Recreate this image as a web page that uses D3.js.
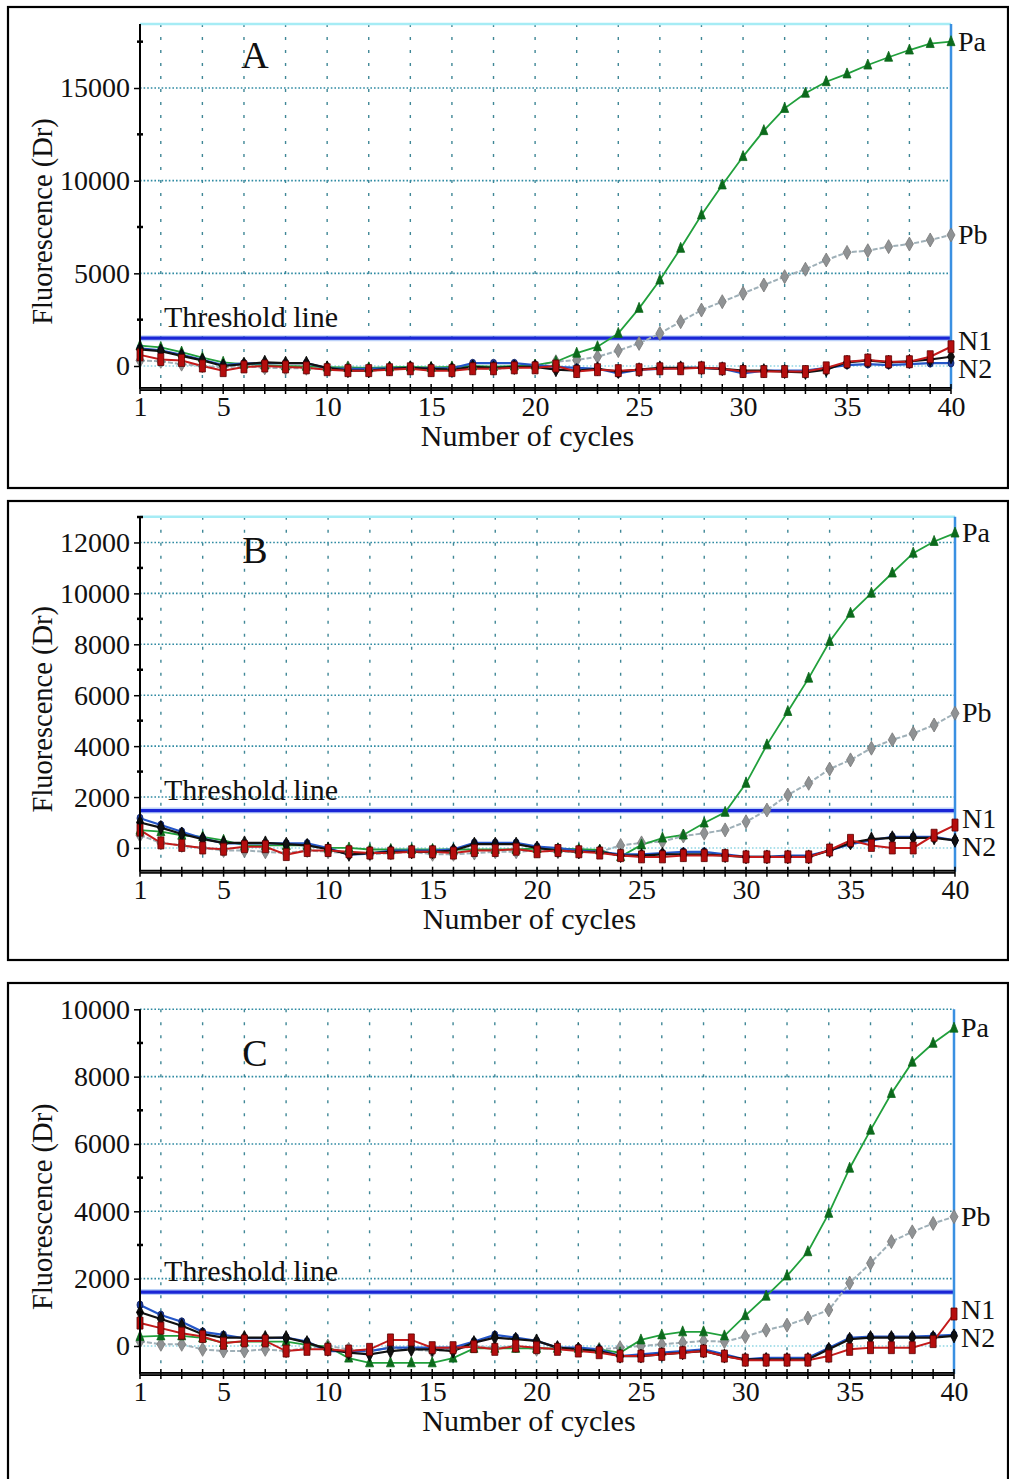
<!DOCTYPE html>
<html><head><meta charset="utf-8">
<script src="https://cdn.jsdelivr.net/npm/d3@7"></script>
<style>
body{margin:0;background:#fff}
svg{display:block}
text{font-family:"Liberation Serif","Times New Roman",serif;fill:#111}
</style>
</head><body>
<svg id="chart" width="1009" height="1479"></svg>
<script>
// ---------- DATA ----------
const cycles = d3.range(1, 41);
const xTickLabels = [1, 5, 10, 15, 20, 25, 30, 35, 40];
const seriesNames = ["Pa", "Pb", "N1", "N2"];

// Panel A
const yTicksA = [0, 5000, 10000, 15000];
const thresholdA = 1500;
const paA = [1100,1000,750,450,200,100,50,0,-20,-60,-80,-100,-60,-50,-80,-50,0,-30,0,50,230,690,1040,1760,3110,4640,6350,8150,9770,11300,12700,13900,14720,15340,15760,16240,16660,17050,17400,17500];
const pbA = [300,250,100,0,-80,0,-100,-120,-120,-150,-100,-200,-150,-100,-200,-150,-100,-150,-100,0,230,320,500,830,1220,1760,2390,3020,3470,3920,4370,4820,5220,5720,6130,6220,6440,6580,6800,7070];
const n1A = [600,350,300,0,-250,-50,0,-50,-100,-200,-250,-250,-200,-150,-250,-250,-150,-150,-100,-100,0,-300,-200,-250,-200,-150,-150,-100,-150,-300,-300,-300,-300,-100,230,320,230,230,500,1040];
const n2A = [950,850,600,330,50,140,150,150,150,-120,-150,-150,-120,-100,-120,-120,150,150,150,50,-50,-100,-150,-400,-200,-150,-100,-100,-150,-400,-250,-250,-250,-100,50,100,50,100,150,160];
const blkA = [900,800,550,300,0,100,200,150,150,-100,-250,-250,-150,-100,-150,-200,-50,-100,-50,-50,-200,-250,-150,-300,-200,-100,-100,-100,-150,-250,-250,-300,-350,-200,200,300,200,250,350,500];

// Panel B
const yTicksB = [0, 2000, 4000, 6000, 8000, 10000, 12000];
const thresholdB = 1470;
const paB = [700,640,500,440,300,100,100,100,100,0,0,-60,-60,-60,-60,-60,-60,-60,-60,-20,-30,-50,-80,-340,120,390,510,980,1400,2540,4050,5360,6670,8110,9220,10010,10800,11580,12040,12370];
const pbB = [500,200,100,0,-100,-100,-150,-200,-100,-150,-200,-250,-200,-150,-250,-250,-200,-150,-150,-100,-150,-150,-150,100,200,250,470,580,710,1030,1490,2080,2540,3100,3460,3920,4250,4500,4830,5290];
const n1B = [700,200,100,0,-50,50,50,-260,-100,-100,-150,-200,-200,-150,-150,-200,-100,-100,-50,-150,-100,-150,-200,-300,-350,-350,-300,-300,-300,-350,-350,-350,-350,-80,300,100,0,0,500,900];
const n2B = [1170,900,640,380,180,180,180,180,180,0,-260,-220,-100,-100,-100,-50,200,200,200,50,0,-100,-150,-250,-250,-200,-150,-150,-250,-350,-350,-300,-300,-100,150,300,440,440,440,300];
const blkB = [1000,800,550,350,200,200,200,150,100,-50,-250,-200,-150,-150,-150,-100,150,150,150,0,-100,-150,-150,-300,-300,-250,-250,-250,-300,-350,-350,-350,-350,-100,200,350,400,400,400,300];

// Panel C
const yTicksC = [0, 2000, 4000, 6000, 8000, 10000];
const thresholdC = 1600;
const paC = [280,300,300,240,100,130,130,130,30,-20,-360,-500,-500,-500,-500,-360,-70,-70,-70,-70,-70,-70,-100,-200,180,330,420,420,300,900,1480,2080,2800,3940,5280,6410,7500,8430,8990,9440];
const pbC = [140,50,50,-100,-150,-150,-100,-150,-50,0,-100,-150,-50,-100,-150,-100,0,-50,0,-100,-50,-100,-100,-50,0,50,100,150,130,280,470,620,830,1070,1870,2460,3100,3390,3640,3840];
const n1C = [680,530,380,280,80,150,150,-150,-100,-100,-150,-100,180,180,-50,-50,-20,-100,0,-50,-100,-150,-200,-300,-300,-250,-200,-150,-300,-420,-420,-420,-420,-300,-100,-50,-50,-50,130,950];
const n2C = [1220,920,720,420,330,230,230,250,130,-150,-150,-150,-50,-50,-50,-50,130,330,250,150,-50,-50,-100,-300,-250,-200,-150,-100,-250,-400,-350,-350,-350,-60,240,280,280,280,300,330];
const blkC = [1000,800,600,350,250,250,250,250,100,-100,-200,-250,-150,-100,-100,-150,100,250,200,150,-50,-100,-150,-300,-300,-250,-200,-150,-300,-400,-400,-400,-400,-100,200,250,250,250,250,300];

// ---------- LAYOUT ----------
const panels = [
  {letter:"A", box:[8,7,1008,488], xr:[140,951], yr:[389,24], yDomain:[-1241,18454], ticks:yTicksA, minor:2500, thr:thresholdA, topLine:true, letterY:68,
   pa:paA, pb:pbA, n1:n1A, n2:n2A, blk:blkA},
  {letter:"B", box:[8,501,1008,960], xr:[140,955], yr:[871.7,516.7], yDomain:[-932,13012], ticks:yTicksB, minor:1000, thr:thresholdB, topLine:true, letterY:563,
   pa:paB, pb:pbB, n1:n1B, n2:n2B, blk:blkB},
  {letter:"C", box:[8,983,1008,1500], xr:[140,954], yr:[1374,1009.3], yDomain:[-832,10000], ticks:yTicksC, minor:1000, thr:thresholdC, topLine:false, letterY:1066,
   pa:paC, pb:pbC, n1:n1C, n2:n2C, blk:blkC}
];

const svg = d3.select("#chart");

function markerPath(kind){
  switch(kind){
    case "tri": return "M0,-6L4,4L-4,4Z";
    case "dia": return "M0,-7L4,0L0,7L-4,0Z";
    case "rect": return "M-3,-6H3V6H-3Z";
    case "circ": return "M0,-4A3,4 0 1,1 0,4A3,4 0 1,1 0,-4Z";
    case "bdia": return "M0,-7L3.5,0L0,7L-3.5,0Z";
  }
}

panels.forEach(p => {
  const g = svg.append("g");
  const x = d3.scaleLinear().domain([1,40]).range(p.xr);
  const y = d3.scaleLinear().domain(p.yDomain).range(p.yr);
  const L = p.xr[0], R = p.xr[1], top = p.yr[1], bot = p.yr[0];

  // outer box
  g.append("rect").attr("x",p.box[0]).attr("y",p.box[1])
    .attr("width",p.box[2]-p.box[0]).attr("height",p.box[3]-p.box[1])
    .attr("fill","none").attr("stroke","#000").attr("stroke-width",2.2);

  // vertical dotted grid at even cycles
  g.selectAll(".vg").data(d3.range(2,40,2)).join("line")
    .attr("x1",d=>x(d)).attr("x2",d=>x(d)).attr("y1",top).attr("y2",bot)
    .attr("stroke","#3f8796").attr("stroke-width",1.4).attr("stroke-dasharray","3,10");

  // horizontal dotted grid
  g.selectAll(".hg").data(p.ticks).join("line")
    .attr("x1",L).attr("x2",R).attr("y1",d=>y(d)).attr("y2",d=>y(d))
    .attr("stroke",d=>d===0?"#8fd6e4":"#2f8aa2").attr("stroke-width",1.6)
    .attr("stroke-dasharray","1.6,2");

  if (p.topLine){
    g.append("line").attr("x1",L).attr("x2",R).attr("y1",top).attr("y2",top)
      .attr("stroke","#a6ecf5").attr("stroke-width",2.5);
  }

  // threshold line
  g.append("line").attr("x1",L).attr("x2",R).attr("y1",y(p.thr)).attr("y2",y(p.thr))
    .attr("stroke","#7ea6f2").attr("stroke-width",6).attr("opacity",0.5);
  g.append("line").attr("x1",L).attr("x2",R).attr("y1",y(p.thr)).attr("y2",y(p.thr))
    .attr("stroke","#1a26d6").attr("stroke-width",3.2);
  g.append("text").attr("x",L+24).attr("y",y(p.thr)-11).attr("font-size",30).text("Threshold line");

  // right vertical line at cycle 40
  g.append("line").attr("x1",x(40)).attr("x2",x(40)).attr("y1",top).attr("y2",bot)
    .attr("stroke","#3a90e2").attr("stroke-width",2.5);

  // series
  const series = [
    {key:"Pb", vals:p.pb, color:"#9fb0b8", width:2, dash:"5,2", mk:"dia", fill:"#8f9294", stroke:"#777"},
    {key:"Pa", vals:p.pa, color:"#21a03c", width:1.8, dash:null, mk:"tri", fill:"#0c6a1c", stroke:"#0c6a1c"},
    {key:"N2", vals:p.n2, color:"#2456c8", width:2.2, dash:null, mk:"circ", fill:"#1c3a9a", stroke:"#0c1f60"},
    {key:"blk", vals:p.blk, color:"#111", width:2.2, dash:null, mk:"bdia", fill:"#111", stroke:"#000"},
    {key:"N1", vals:p.n1, color:"#c41a1a", width:2, dash:null, mk:"rect", fill:"#b50d0d", stroke:"#5a0000"}
  ];
  const line = d3.line().x((d,i)=>x(cycles[i])).y(d=>y(d));
  series.forEach(s=>{
    g.append("path").attr("d",line(s.vals)).attr("fill","none")
      .attr("stroke",s.color).attr("stroke-width",s.width)
      .attr("stroke-dasharray",s.dash);
  });
  series.forEach(s=>{
    g.selectAll(".m"+s.key).data(s.vals).join("path")
      .attr("transform",(d,i)=>`translate(${x(cycles[i])},${y(d)})`)
      .attr("d",markerPath(s.mk)).attr("fill",s.fill).attr("stroke",s.stroke).attr("stroke-width",0.8);
  });

  // left axis
  g.append("line").attr("x1",L).attr("x2",L).attr("y1",top).attr("y2",bot)
    .attr("stroke","#000").attr("stroke-width",2);
  const minorVals = d3.range(p.minor, p.yDomain[1], p.minor).filter(v=>!p.ticks.includes(v));
  g.selectAll(".mt").data(minorVals).join("line")
    .attr("x1",L-3).attr("x2",L+3).attr("y1",d=>y(d)).attr("y2",d=>y(d))
    .attr("stroke","#000").attr("stroke-width",2.5);
  const ya = g.append("g").attr("transform",`translate(${L},0)`)
    .call(d3.axisLeft(y).tickValues(p.ticks).tickFormat(d3.format("d")).tickSize(6).tickPadding(4));
  ya.select(".domain").remove();
  ya.selectAll("line").attr("stroke","#000").attr("stroke-width",1.5);
  ya.selectAll("text").attr("font-size",28).attr("font-family","Liberation Serif").attr("fill","#111");

  // bottom axis
  g.append("line").attr("x1",L).attr("x2",R).attr("y1",bot).attr("y2",bot)
    .attr("stroke","#000").attr("stroke-width",4);
  g.append("line").attr("x1",L).attr("x2",R).attr("y1",bot).attr("y2",bot)
    .attr("stroke","#555").attr("stroke-width",1);
  g.selectAll(".xt").data(cycles).join("line")
    .attr("x1",d=>x(d)).attr("x2",d=>x(d)).attr("y1",bot-5).attr("y2",bot+5)
    .attr("stroke","#000").attr("stroke-width",1.5);
  const xa = g.append("g").attr("transform",`translate(0,${bot})`)
    .call(d3.axisBottom(x).tickValues(xTickLabels).tickSize(0).tickPadding(7));
  xa.select(".domain").remove();
  xa.selectAll("text").attr("font-size",28).attr("font-family","Liberation Serif").attr("fill","#111");

  // axis titles
  g.append("text").attr("x",(L+R)/2-18).attr("y",bot+57).attr("text-anchor","middle")
    .attr("font-size",30).text("Number of cycles");
  g.append("text").attr("transform",`translate(52,${(top+bot)/2+15}) rotate(-90)`)
    .attr("text-anchor","middle").attr("font-size",28.5).text("Fluorescence (Dr)");

  // panel letter
  g.append("text").attr("x",255).attr("y",p.letterY).attr("text-anchor","middle")
    .attr("font-size",38).text(p.letter);

  // end labels
  const labs = [
    {t:"Pa", v:p.pa[39]}, {t:"Pb", v:p.pb[39]}, {t:"N1", v:p.n1[39]}, {t:"N2", v:p.n2[39]}
  ].map(d=>({t:d.t, yy:y(d.v)+9}));
  const n1 = labs[2], n2 = labs[3];
  if (n2.yy - n1.yy < 28){
    const mid = (n1.yy+n2.yy)/2;
    n1.yy = mid-14; n2.yy = mid+14;
  }
  g.selectAll(".lab").data(labs).join("text")
    .attr("x",R+7).attr("y",d=>d.yy).attr("font-size",28).text(d=>d.t);
});
</script>
</body></html>
